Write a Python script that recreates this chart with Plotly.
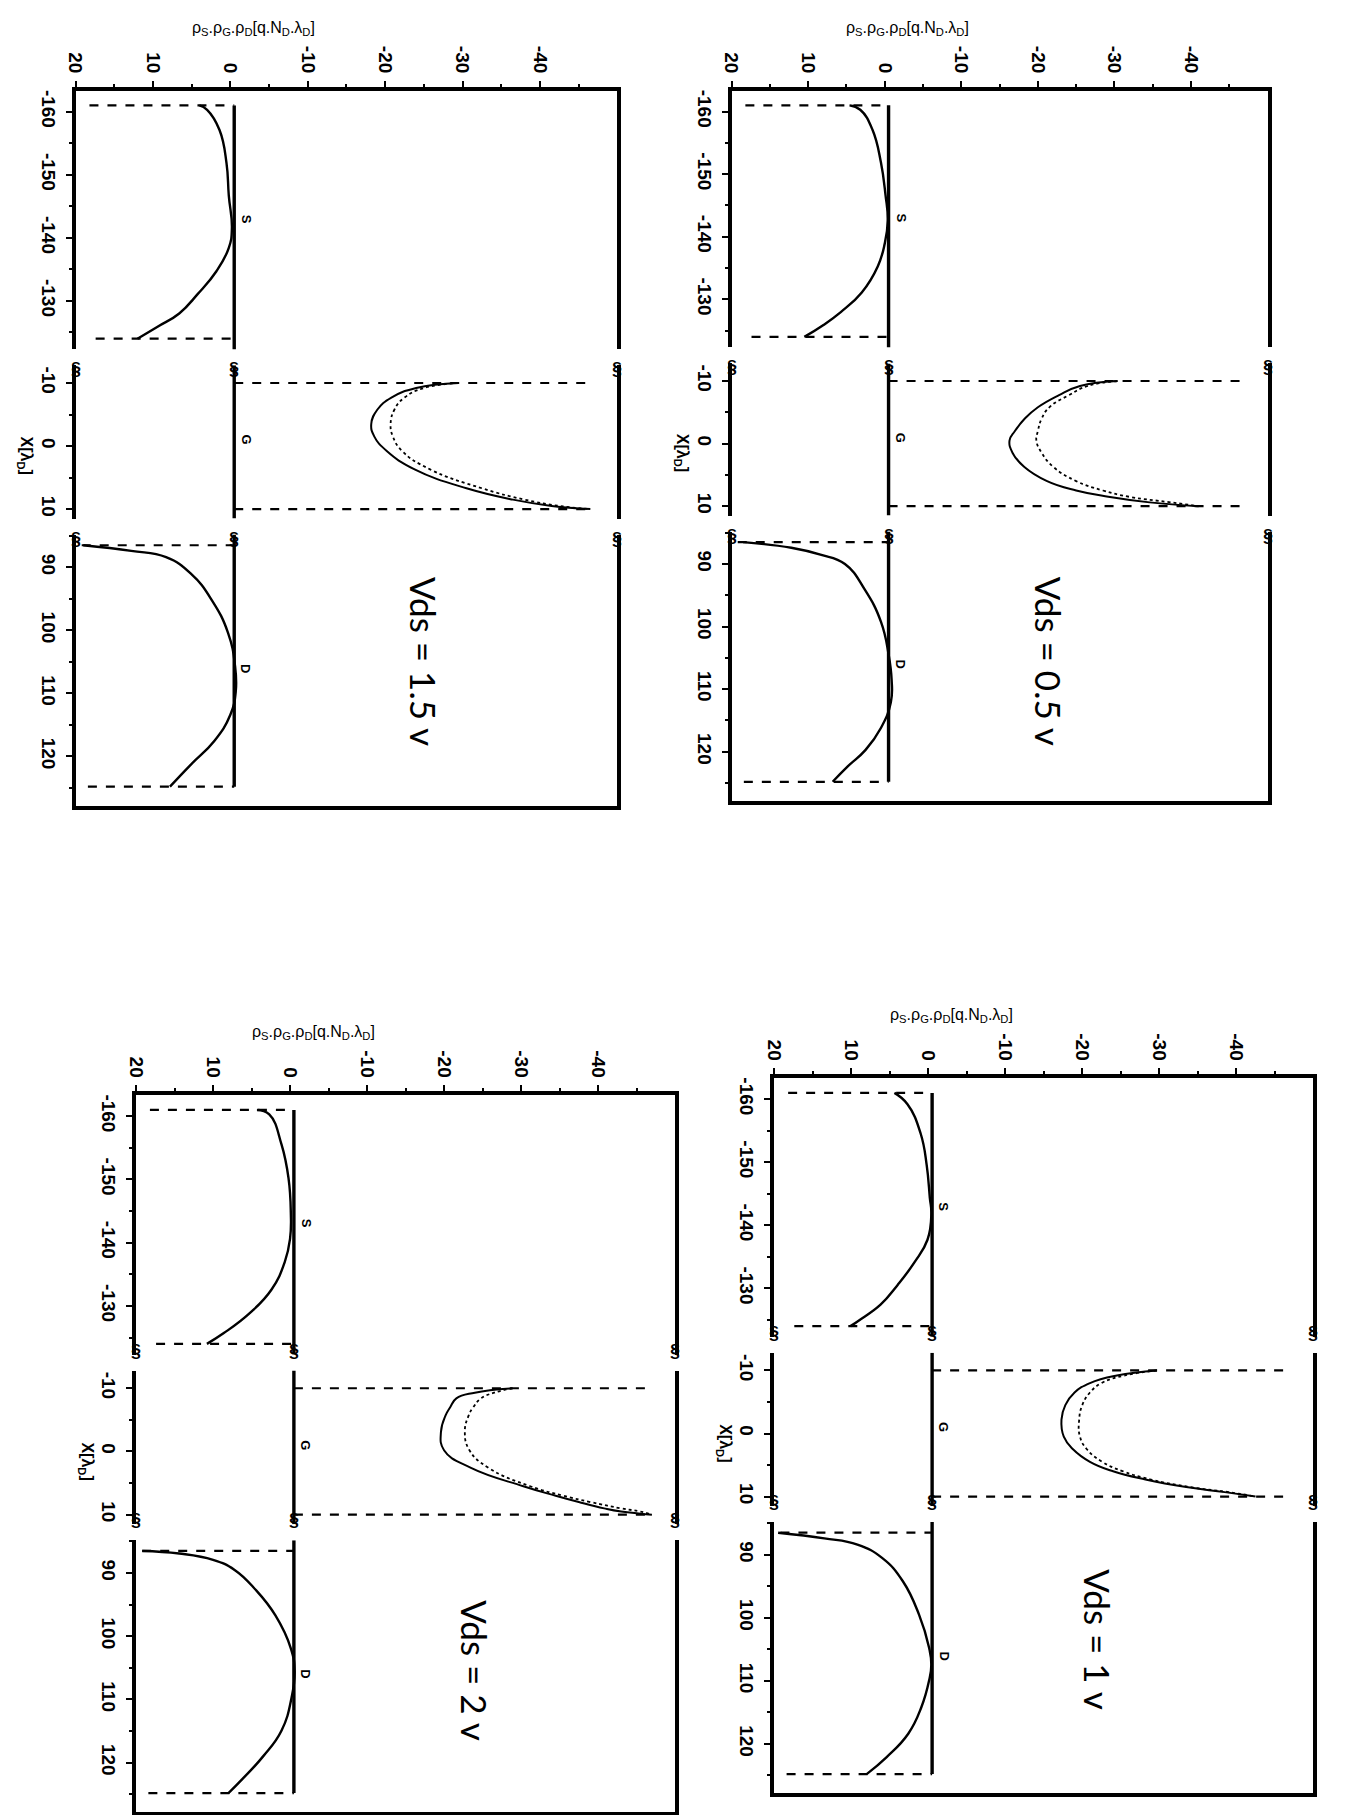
import plotly.graph_objects as go

PAGE_W, PAGE_H = 1345, 1815

# ---------------- axis ticks / ranges ----------------
charge_ticks = [20, 10, 0, -10, -20, -30, -40]
charge_tick_labels = ["20", "10", "0", "-10", "-20", "-30", "-40"]
src_ticks = [-160, -150, -140, -130]
src_tick_labels = ["-160", "-150", "-140", "-130"]
gate_ticks = [-10, 0, 10]
gate_tick_labels = ["-10", "0", "10"]
drain_ticks = [90, 100, 110, 120]
drain_tick_labels = ["90", "100", "110", "120"]

charge_range = [20, -50]
src_range = [-163.3, -122.3]
gate_range = [-12.8, 11.5]
drain_range = [84.8, 127.8]

# junction edges (positions) and reference line (charge)
src_edges = [-161.0, -124.0]
gate_edges = [-10.0, 10.0]
drain_edges = [86.5, 124.8]
base_line = -0.5
src_dash_ends = [18.2, 17.4]
gate_dash_ends = [-46.5, -47.0]
drain_dash_ends = [19.2, 18.4]

# ---------------- Vds = 1.5 v ----------------
vds15_src_x = [-161.0, -160.3, -157.1, -151.9, -146.7, -141.5, -138.4, -134.7, -131.1, -128.0, -125.9, -124.0]
vds15_src_c = [4.0, 3.0, 1.4, 0.5, 0.2, -0.2, 0.2, 1.8, 4.2, 6.6, 9.4, 12.0]
vds15_gate_x = [-10.0, -9.2, -7.7, -5.8, -3.5, -1.5, 0.8, 3.7, 6.7, 8.5, 9.5, 10.0]
vds15_gate_solid = [-29.5, -24.0, -20.8, -19.0, -18.2, -18.6, -20.2, -23.8, -30.5, -36.5, -41.5, -46.5]
vds15_gate_dot = [-29.5, -25.0, -22.5, -21.2, -20.7, -21.0, -22.2, -25.8, -32.5, -38.0, -42.5, -46.5]
vds15_drn_x = [86.5, 87.4, 88.4, 91.0, 95.2, 100.4, 105.6, 109.7, 113.4, 117.6, 121.3, 124.8]
vds15_drn_c = [19.0, 12.8, 8.3, 5.1, 2.4, 0.3, -0.6, -0.7, 0.0, 2.1, 5.1, 7.8]

# ---------------- Vds = 0.5 v ----------------
vds05_src_x = [-161.0, -160.3, -157.1, -151.9, -146.7, -142.6, -138.9, -135.3, -131.1, -128.0, -125.9, -124.0]
vds05_src_c = [4.6, 3.2, 1.6, 0.5, -0.1, -0.4, 0.0, 0.9, 3.0, 5.7, 8.0, 10.5]
vds05_gate_x = [-10.0, -9.2, -7.7, -5.8, -4.0, -2.0, -0.5, 1.5, 3.7, 6.0, 7.5, 8.5, 9.4, 10.0]
vds05_gate_solid = [-30.4, -25.5, -22.7, -20.0, -18.3, -17.0, -16.3, -16.7, -18.2, -21.2, -25.0, -29.2, -34.6, -41.0]
vds05_gate_dot = [-30.4, -26.5, -24.0, -21.5, -20.5, -20.0, -19.8, -20.5, -22.0, -25.0, -28.5, -31.9, -37.4, -41.0]
vds05_drn_x = [86.5, 87.4, 88.5, 90.0, 94.1, 99.2, 104.4, 108.5, 112.1, 116.2, 119.7, 122.3, 124.8]
vds05_drn_c = [18.5, 12.2, 8.4, 5.2, 2.6, 0.5, -0.5, -0.9, -0.8, 0.5, 2.5, 4.8, 6.8]

# ---------------- Vds = 2 v ----------------
vds2_src_x = [-161.0, -160.3, -155.5, -150.2, -144.8, -140.6, -136.9, -132.6, -128.9, -125.7, -124.0]
vds2_src_c = [4.3, 2.7, 1.1, 0.2, -0.1, 0.0, 0.7, 2.4, 5.2, 8.6, 10.8]
vds2_gate_x = [-10.0, -9.3, -8.4, -7.0, -5.7, -3.1, -0.2, 2.6, 5.5, 7.0, 8.0, 9.0, 9.5, 10.0]
vds2_gate_solid = [-28.9, -24.0, -21.6, -20.8, -20.2, -19.6, -20.0, -23.5, -30.3, -34.5, -37.5, -40.8, -43.0, -47.0]
vds2_gate_dot = [-28.9, -26.5, -24.8, -23.8, -23.2, -22.7, -23.3, -25.8, -31.2, -35.5, -39.0, -43.0, -45.5, -47.0]
vds2_drn_x = [86.5, 86.9, 87.9, 89.5, 92.6, 96.7, 101.9, 105.5, 109.7, 114.9, 119.0, 122.6, 124.8]
vds2_drn_c = [19.2, 14.4, 10.0, 7.2, 4.5, 1.9, -0.1, -0.6, -0.2, 1.1, 3.5, 6.2, 8.0]

# ---------------- Vds = 1 v ----------------
vds1_src_x = [-161.0, -159.2, -154.6, -149.5, -144.4, -141.8, -137.7, -134.1, -130.5, -127.4, -124.9, -124.0]
vds1_src_c = [4.4, 2.7, 1.0, 0.2, -0.2, -0.4, 0.1, 1.8, 4.0, 6.2, 9.0, 10.1]
vds1_gate_x = [-10.0, -9.2, -8.0, -6.5, -4.5, -2.2, 0.5, 2.5, 4.5, 6.0, 7.3, 8.5, 9.3, 10.0]
vds1_gate_solid = [-29.7, -24.5, -21.0, -19.0, -17.8, -17.3, -17.6, -18.8, -21.0, -24.0, -28.2, -33.5, -38.5, -42.5]
vds1_gate_dot = [-29.7, -25.5, -22.5, -21.0, -20.0, -19.6, -19.7, -20.6, -22.6, -25.3, -28.9, -34.0, -39.0, -42.5]
vds1_drn_x = [86.5, 87.4, 88.4, 90.5, 94.2, 99.5, 104.7, 107.4, 110.0, 114.2, 118.4, 122.1, 124.8]
vds1_drn_c = [19.5, 13.5, 9.2, 6.0, 3.3, 1.2, -0.1, -0.4, -0.1, 0.9, 2.6, 5.4, 8.0]

panel_labels = ["Vds = 1.5 v", "Vds = 0.5 v", "Vds = 2 v", "Vds = 1 v"]
label_pos = [(-25.0, 105.0), (-21.5, 105.5), (-24.0, 105.5), (-22.0, 103.5)]

axis_title_top = "ρ<sub>S</sub>.ρ<sub>G</sub>.ρ<sub>D</sub>[q.N<sub>D</sub>.λ<sub>D</sub>]"
axis_title_left = "X[λ<sub>D</sub>]"

# panel frames in page pixels: (left, right, top, bottom)
frames = [(66, 612, 90, 805), (727, 1267, 90, 800), (127, 670, 1095, 1812), (770, 1313, 1078, 1793)]

panels = [
    dict(src=(vds15_src_x, vds15_src_c), gate=(vds15_gate_x, vds15_gate_solid, vds15_gate_dot), drn=(vds15_drn_x, vds15_drn_c)),
    dict(src=(vds05_src_x, vds05_src_c), gate=(vds05_gate_x, vds05_gate_solid, vds05_gate_dot), drn=(vds05_drn_x, vds05_drn_c)),
    dict(src=(vds2_src_x, vds2_src_c), gate=(vds2_gate_x, vds2_gate_solid, vds2_gate_dot), drn=(vds2_drn_x, vds2_drn_c)),
    dict(src=(vds1_src_x, vds1_src_c), gate=(vds1_gate_x, vds1_gate_solid, vds1_gate_dot), drn=(vds1_drn_x, vds1_drn_c)),
]

FONT = "Liberation Sans"
TICKFONT = dict(family=FONT, size=19, color="black", weight="bold")
FRAME_W = 4
GAP = 16

fig = go.Figure()
layout = {}
annotations = []

seg_ranges = [src_range, gate_range, drain_range]
seg_ticks = [(src_ticks, src_tick_labels), (gate_ticks, gate_tick_labels), (drain_ticks, drain_tick_labels)]


def line(k, xs, ys, width=2.0, dash="solid", shape="linear"):
    fig.add_trace(go.Scatter(
        x=xs, y=ys, mode="lines", xaxis="x" if k == 1 else f"x{k}", yaxis="y" if k == 1 else f"y{k}",
        line=dict(color="black", width=width, dash=dash, shape=shape, smoothing=1.3),
        showlegend=False, hoverinfo="skip"))


def xr(k):
    return "x" if k == 1 else f"x{k}"


def yr(k):
    return "y" if k == 1 else f"y{k}"


for p, (panel, frame) in enumerate(zip(panels, frames)):
    left, right, top, bottom = frame
    spans = [r[1] - r[0] for r in seg_ranges]
    scale = (bottom - top - 2 * GAP) / sum(spans)
    y = top
    seg_px = []
    for sp in spans:
        seg_px.append((y, y + sp * scale))
        y += sp * scale + GAP
    ks = []
    for s in range(3):
        k = p * 3 + s + 1
        ks.append(k)
        xname = "xaxis" if k == 1 else f"xaxis{k}"
        yname = "yaxis" if k == 1 else f"yaxis{k}"
        y0, y1 = seg_px[s]
        xa = dict(domain=[left / PAGE_W, right / PAGE_W], range=charge_range,
                  anchor=yr(k), showgrid=False, zeroline=False, fixedrange=True)
        if s == 0:
            xa.update(side="top", showline=True, linewidth=FRAME_W, linecolor="black", ticks="outside",
                      ticklen=6, tickwidth=2, tickcolor="black", tickvals=charge_ticks, ticktext=charge_tick_labels,
                      tickangle=90, tickfont=TICKFONT, ticklabelstandoff=1,
                      minor=dict(tickvals=[15, 5, -5, -15, -25, -35, -45], ticks="outside", ticklen=3, tickwidth=2, tickcolor="black"))
        elif s == 2:
            xa.update(side="bottom", showline=True, linewidth=FRAME_W, linecolor="black", ticks="", showticklabels=False)
        else:
            xa.update(showline=False, ticks="", showticklabels=False)
        tv, tt = seg_ticks[s]
        r = seg_ranges[s]
        ya = dict(domain=[1 - y1 / PAGE_H, 1 - y0 / PAGE_H], range=[r[1], r[0]],
                  anchor=xr(k), showgrid=False, zeroline=False, fixedrange=True,
                  showline=True, linewidth=FRAME_W, linecolor="black", mirror=True,
                  ticks="outside", ticklen=6, tickwidth=2, tickcolor="black",
                  tickvals=tv, ticktext=tt, tickangle=90, tickfont=TICKFONT, ticklabelstandoff=1,
                  minor=dict(dtick=5, tick0=0, ticks="outside", ticklen=3, tickwidth=2, tickcolor="black"))
        layout[xname] = xa
        layout[yname] = ya

    ksrc, kgate, kdrn = ks
    # source segment
    line(ksrc, [base_line, base_line], [src_edges[0], src_range[1]], width=3.4)
    line(ksrc, [src_dash_ends[0], base_line], [src_edges[0], src_edges[0]], width=2.2, dash="dash")
    line(ksrc, [src_dash_ends[1], base_line], [src_edges[1], src_edges[1]], width=2.2, dash="dash")
    line(ksrc, panel["src"][1], panel["src"][0], width=2.4, shape="spline")
    # gate segment
    line(kgate, [base_line, base_line], [gate_range[0], gate_range[1]], width=3.4)
    line(kgate, [base_line, gate_dash_ends[0]], [gate_edges[0], gate_edges[0]], width=2.2, dash="dash")
    line(kgate, [base_line, gate_dash_ends[1]], [gate_edges[1], gate_edges[1]], width=2.2, dash="dash")
    gx, gs, gd = panel["gate"]
    line(kgate, gs, gx, width=2.0, shape="spline")
    line(kgate, gd, gx, width=1.8, dash="dot", shape="spline")
    # drain segment
    line(kdrn, [base_line, base_line], [drain_range[0], drain_edges[1]], width=3.4)
    line(kdrn, [drain_dash_ends[0], base_line], [drain_edges[0], drain_edges[0]], width=2.2, dash="dash")
    line(kdrn, [drain_dash_ends[1], base_line], [drain_edges[1], drain_edges[1]], width=2.2, dash="dash")
    line(kdrn, panel["drn"][1], panel["drn"][0], width=2.4, shape="spline")

    # titles
    annotations.append(dict(text=axis_title_top, xref=xr(ksrc), x=-3, yref=yr(ksrc) + " domain", y=1,
                            yshift=74, showarrow=False, font=dict(family=FONT, size=16, color="black")))
    annotations.append(dict(text=axis_title_left, xref=xr(kgate) + " domain", x=0, xshift=-62,
                            yref=yr(kgate), y=1.5, textangle=90, showarrow=False,
                            font=dict(family=FONT, size=16, color="black", weight="bold")))
    lx, ly = label_pos[p]
    annotations.append(dict(text=panel_labels[p], xref=xr(kdrn), x=lx, yref=yr(kdrn), y=ly, textangle=90,
                            showarrow=False, font=dict(family="Lato", size=35, color="black")))
    # region letters
    for k, yy, txt in ((ksrc, -143.0, "S"), (kgate, -1.0, "G"), (kdrn, 106.0, "D")):
        annotations.append(dict(text=txt, xref=xr(k), x=base_line, xshift=12, yref=yr(k), y=yy, textangle=90,
                                showarrow=False, font=dict(family=FONT, size=13, color="black", weight="bold")))
    # break marks
    for s in range(2):
        gap_mid = seg_px[s][1] + GAP / 2
        for bx in (charge_range[0], base_line, charge_range[1]):
            annotations.append(dict(text="§", xref=xr(ksrc), x=bx, yref="paper", y=1 - gap_mid / PAGE_H,
                                    showarrow=False, font=dict(family=FONT, size=18, color="black", weight="bold")))

layout.update(dict(width=PAGE_W, height=PAGE_H, margin=dict(l=0, r=0, t=0, b=0),
                   paper_bgcolor="white", plot_bgcolor="white", showlegend=False,
                   annotations=annotations))
fig.update_layout(**layout)
fig.write_html("out.html")
